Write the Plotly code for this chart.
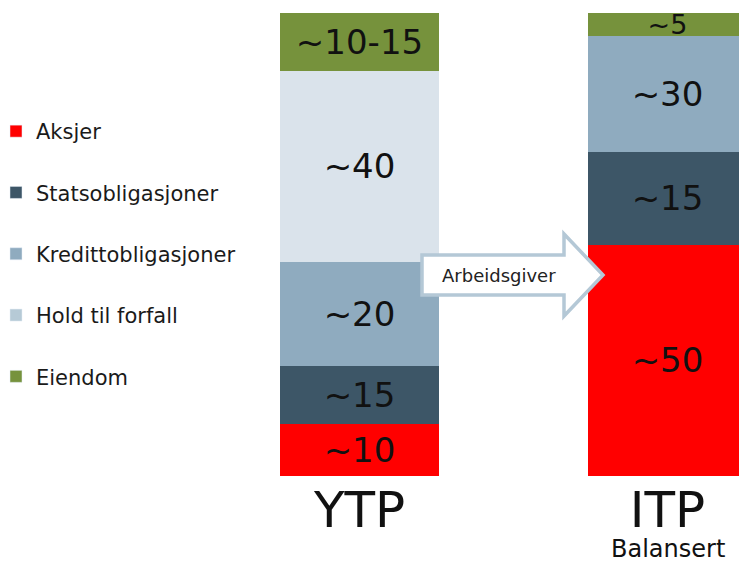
import plotly.graph_objects as go

# ---- data ----
groups = ["YTP", "ITP"]
series = ["Aksjer", "Statsobligasjoner", "Kredittobligasjoner", "Hold til forfall", "Eiendom"]
aksjer = [11.2, 50.0]
stats = [12.5, 20.0]
kreditt = [22.5, 25.0]
hold = [41.3, 0.0]
eiendom = [12.5, 5.0]
aksjer_lbl = ["~10", "~50"]
stats_lbl = ["~15", "~15"]
kreditt_lbl = ["~20", "~30"]
hold_lbl = ["~40", ""]
eiendom_lbl = ["~10-15", "~5"]
sub_label = "Balansert"
arrow_label = "Arbeidsgiver"

bar_colors = ["#FF0000", "#3D5667", "#8FABBF", "#DAE3EB", "#76923C"]
legend_colors = ["#FF0000", "#3D5667", "#8FABBF", "#B6CAD6", "#76923C"]

FONT = "DejaVu Sans"
OFF = 8                      # page body margin
W, H = 747 - OFF, 564 - OFF
TOP, BOTTOM = 13 - OFF, 476 - OFF   # plot area in figure pixels
PLOT_H = BOTTOM - TOP

values = [aksjer, stats, kreditt, hold, eiendom]
texts = [aksjer_lbl, stats_lbl, kreditt_lbl, hold_lbl, eiendom_lbl]
text_sizes = [[34, 34], [34, 34], [34, 34], [34, 34], [34, 27]]

fig = go.Figure()
for name, vals, txt, col, ts in zip(series, values, texts, bar_colors, text_sizes):
    fig.add_trace(go.Bar(
        x=groups, y=vals, name=name, text=txt,
        textposition="inside", insidetextanchor="middle",
        constraintext="none", textangle=0, cliponaxis=False,
        textfont=dict(family=FONT, size=ts, color="#111111"),
        marker=dict(color=col, line=dict(width=0)),
        width=0.516, showlegend=False, hoverinfo="skip",
    ))

# legend entries
for name, col in zip(series, legend_colors):
    fig.add_trace(go.Bar(
        x=[None], y=[None], name=name, legendgroup=name,
        marker=dict(color=col), showlegend=True,
    ))

def px(x):  # page pixel -> paper
    return (x - OFF) / W

def py(y):
    return (BOTTOM - (y - OFF)) / PLOT_H

# arrow shape (decoration)
pts = [(422, 255), (564, 255), (564, 234), (603, 275), (564, 316), (564, 295), (422, 295)]
path = "M " + " L ".join(f"{px(a):.5f},{py(b):.5f}" for a, b in pts) + " Z"
fig.add_shape(type="path", path=path, xref="paper", yref="paper",
              fillcolor="white", line=dict(color="#B4C8D6", width=3.5), layer="above")

fig.add_annotation(text=arrow_label, x=px(499), y=py(275), xref="paper", yref="paper",
                   showarrow=False, xanchor="center", yanchor="middle",
                   font=dict(family=FONT, size=18, color="#222222"))

fig.add_annotation(text=sub_label, x="ITP", y=py(549), xref="x", yref="paper",
                   showarrow=False, xanchor="center", yanchor="middle",
                   font=dict(family=FONT, size=24, color="#111111"))

# x range: YTP centre at page x 359.5, ITP centre at 667.5
unit = 667.5 - 359.5
x0 = -(359.5 - OFF) / unit
x1 = (W - (359.5 - OFF)) / unit

fig.update_layout(
    width=W, height=H,
    margin=dict(l=0, r=0, t=TOP, b=H - BOTTOM, pad=0, autoexpand=False),
    barmode="stack",
    plot_bgcolor="white", paper_bgcolor="white",
    xaxis=dict(type="category", categoryarray=groups, range=[x0, x1],
               showgrid=False, zeroline=False, showline=False, ticks="",
               tickfont=dict(family=FONT, size=50, color="#111111")),
    yaxis=dict(range=[0, 100], visible=False),
    legend=dict(xref="paper", yref="paper", x=-12 / W, y=py(111),
                xanchor="left", yanchor="top", traceorder="grouped",
                tracegroupgap=31, itemwidth=30, bgcolor="rgba(0,0,0,0)",
                font=dict(family=FONT, size=21, color="#1a1a1a")),
    showlegend=True,
)

fig.write_html("out.html")
